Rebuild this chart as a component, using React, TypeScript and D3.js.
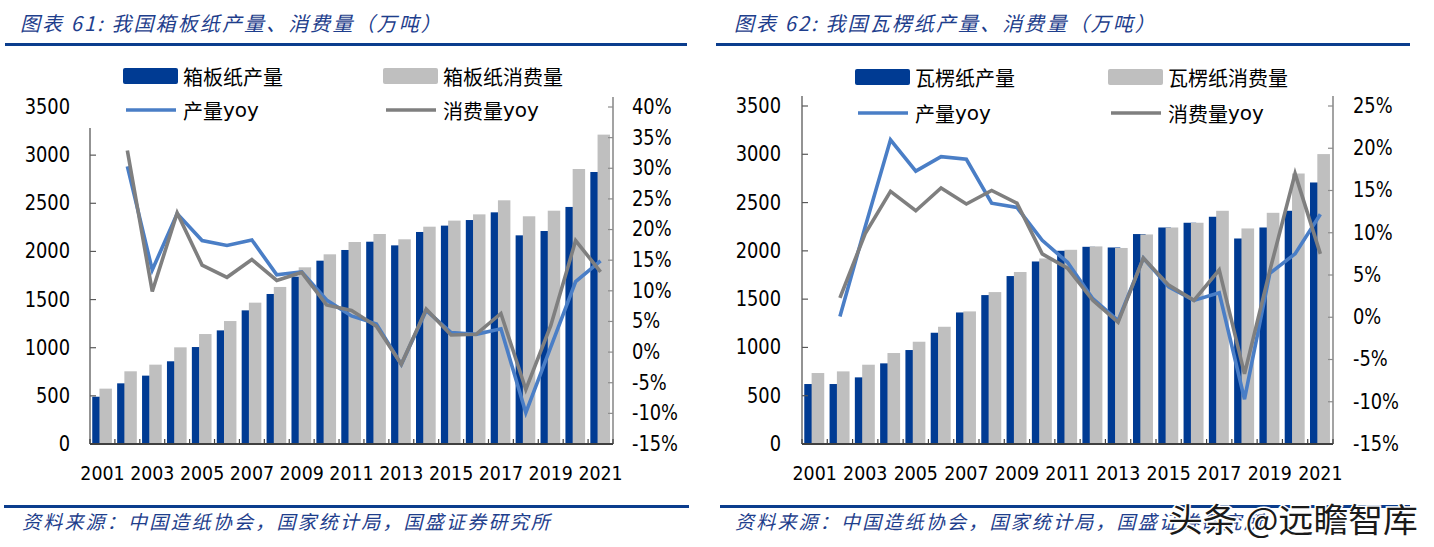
import React from "react";
import * as d3 from "d3";

const years = ["2001","2002","2003","2004","2005","2006","2007","2008","2009","2010","2011","2012","2013","2014","2015","2016","2017","2018","2019","2020","2021"];
const xTickLabels = ["2001","2003","2005","2007","2009","2011","2013","2015","2017","2019","2021"];

// 箱板纸 (万吨)
const boxProd = [491,630,710,859,1007,1180,1388,1558,1738,1904,2015,2101,2063,2202,2268,2326,2406,2167,2212,2462,2825];
const boxCons = [575,755,824,1004,1142,1277,1468,1631,1835,1970,2098,2181,2126,2257,2320,2385,2531,2365,2423,2856,3213];
const boxProdYoy = [null,30.3,13.4,22.6,18.2,17.4,18.3,12.6,13.1,8.5,5.9,4.6,-2.0,6.8,3.2,2.9,3.8,-9.9,0.8,11.5,14.9];
const boxConsYoy = [null,32.9,9.9,22.7,14.2,12.2,15.1,11.7,13.0,7.7,6.8,4.2,-2.0,7.0,2.8,2.9,6.3,-6.1,4.3,18.2,13.1];

// 瓦楞纸 (万吨)
const corProd = [621,621,690,835,973,1152,1362,1542,1739,1890,2001,2042,2035,2174,2242,2291,2353,2128,2242,2415,2708];
const corCons = [735,752,821,942,1059,1214,1373,1573,1781,1921,2011,2046,2030,2170,2242,2291,2415,2232,2394,2801,3002];
const corProdYoy = [null,0.1,10.7,21.0,17.3,19.0,18.7,13.5,13.0,9.1,6.5,2.2,-0.4,7.0,3.6,2.0,2.9,-9.7,5.2,7.5,12.2];
const corConsYoy = [null,2.3,9.9,14.9,12.6,15.3,13.4,15.0,13.5,7.5,5.8,2.0,-0.6,7.0,3.8,2.0,5.6,-6.7,5.5,17.0,7.5];

const leftTicks = [0,500,1000,1500,2000,2500,3000,3500];
const boxPctTicks = [-15,-10,-5,0,5,10,15,20,25,30,35,40];
const corPctTicks = [-15,-10,-5,0,5,10,15,20,25];

const BLUE = "#003B93";
const GRAY = "#BFBFBF";
const LBLUE = "#4A7EC6";
const LGRAY = "#7F7F7F";
const TITLE = "#1E3E8C";
const RULE = "#0B3D8D";
const NUMFONT = "'DejaVu Sans', Verdana, sans-serif";
const CJK = "'Noto Sans CJK SC', sans-serif";

type Cfg = {
  x0: number; x1: number; top: number; bottom: number;
  prod: number[]; cons: number[]; prodYoy: (number|null)[]; consYoy: (number|null)[];
  pctTicks: number[]; pctMin: number; pctMax: number;
  leftLabelX: number; rightLabelX: number; leftAxisTop: number;
  legend: { x1: number; x2: number; y1: number; y2: number; prodName: string; consName: string };
};

function Num({ x, y, text, anchor, size }: { x: number; y: number; text: string; anchor: string; size: number }) {
  return (
    <g transform={`translate(${x},${y}) scale(0.87,1)`}>
      <text x={0} y={0} textAnchor={anchor} dominantBaseline="central" fontFamily={NUMFONT} fontSize={size} fill="#000">{text}</text>
    </g>
  );
}

function Panel({ c }: { c: Cfg }) {
  const x = d3.scaleBand<string>().domain(years).range([c.x0, c.x1]).paddingInner(0).paddingOuter(0);
  const bw = x.bandwidth();
  const yL = d3.scaleLinear().domain([0, 3500]).range([c.bottom, c.top]);
  const yR = d3.scaleLinear().domain([c.pctMin, c.pctMax]).range([c.bottom, c.top]);
  const cx = (i: number) => (x(years[i]) as number) + bw / 2;
  const mkLine = (arr: (number|null)[]) =>
    d3.line<number|null>()
      .defined((d) => d !== null)
      .x((_, i) => cx(i))
      .y((d) => yR(d as number))(arr) as string;
  const barW = bw * 0.5;
  const L = c.legend;
  return (
    <g>
      {years.map((yr, i) => (
        <g key={yr}>
          <rect x={(x(yr) as number) + bw * 0.09} y={yL(c.prod[i])} width={barW} height={c.bottom - yL(c.prod[i])} fill={BLUE} />
          <rect x={(x(yr) as number) + bw * 0.38} y={yL(c.cons[i])} width={barW} height={c.bottom - yL(c.cons[i])} fill={GRAY} />
        </g>
      ))}
      <line x1={c.x0} x2={c.x0} y1={c.leftAxisTop} y2={c.bottom} stroke="#595959" strokeWidth={1.3} />
      <line x1={c.x1} x2={c.x1} y1={c.top - 10} y2={c.bottom} stroke="#8C8C8C" strokeWidth={1.6} />
      {leftTicks.map((t) => (
        yL(t) >= c.leftAxisTop ? <line key={"lt" + t} x1={c.x0} x2={c.x0 + 6} y1={yL(t)} y2={yL(t)} stroke="#595959" strokeWidth={1.2} /> : null
      ))}
      {c.pctTicks.map((t) => (
        <line key={"rt" + t} x1={c.x1 - 5} x2={c.x1} y1={yR(t)} y2={yR(t)} stroke="#8C8C8C" strokeWidth={1.2} />
      ))}
      {d3.range(years.length + 1).map((i) => {
        const xx = c.x0 + i * bw;
        return <line key={"xt" + i} x1={xx} x2={xx} y1={c.bottom - 5} y2={c.bottom} stroke="#404040" strokeWidth={1.2} />;
      })}
      <line x1={c.x0} x2={c.x1} y1={c.bottom} y2={c.bottom} stroke="#404040" strokeWidth={2} />
      <path d={mkLine(c.prodYoy)} fill="none" stroke={LBLUE} strokeWidth={3.6} strokeLinejoin="miter" />
      <path d={mkLine(c.consYoy)} fill="none" stroke={LGRAY} strokeWidth={3.6} strokeLinejoin="miter" />
      {leftTicks.map((t) => (
        <Num key={"ll" + t} x={c.leftLabelX} y={yL(t)} text={String(t)} anchor="end" size={20.5} />
      ))}
      {c.pctTicks.map((t) => (
        <Num key={"rl" + t} x={c.rightLabelX} y={yR(t)} text={`${t}%`} anchor="start" size={20.5} />
      ))}
      {xTickLabels.map((t) => (
        <Num key={"xl" + t} x={cx(years.indexOf(t))} y={c.bottom + 29} text={t} anchor="middle" size={20} />
      ))}
      <rect x={L.x1} y={L.y1 - 8} width={55} height={16} rx={2} fill={BLUE} />
      <text x={L.x1 + 60} y={L.y1} dominantBaseline="central" fontFamily={CJK} fontSize={20} fill="#000">{L.prodName}</text>
      <rect x={L.x2} y={L.y1 - 8} width={55} height={16} rx={2} fill={GRAY} />
      <text x={L.x2 + 60} y={L.y1} dominantBaseline="central" fontFamily={CJK} fontSize={20} fill="#000">{L.consName}</text>
      <line x1={L.x1 + 3} x2={L.x1 + 53} y1={L.y2} y2={L.y2} stroke={LBLUE} strokeWidth={3.6} />
      <text x={L.x1 + 60} y={L.y2} dominantBaseline="central" fontFamily={CJK} fontSize={20} fill="#000">产量<tspan fontFamily={NUMFONT}>yoy</tspan></text>
      <line x1={L.x2 + 3} x2={L.x2 + 53} y1={L.y2} y2={L.y2} stroke={LGRAY} strokeWidth={3.6} />
      <text x={L.x2 + 60} y={L.y2} dominantBaseline="central" fontFamily={CJK} fontSize={20} fill="#000">消费量<tspan fontFamily={NUMFONT}>yoy</tspan></text>
    </g>
  );
}

export default function App() {
  const left: Cfg = {
    x0: 90, x1: 613, top: 107, bottom: 444,
    prod: boxProd, cons: boxCons, prodYoy: boxProdYoy, consYoy: boxConsYoy,
    pctTicks: boxPctTicks, pctMin: -15, pctMax: 40,
    leftLabelX: 70, rightLabelX: 632, leftAxisTop: 128,
    legend: { x1: 123, x2: 383, y1: 76, y2: 110, prodName: "箱板纸产量", consName: "箱板纸消费量" },
  };
  const right: Cfg = {
    x0: 802, x1: 1333, top: 106, bottom: 444,
    prod: corProd, cons: corCons, prodYoy: corProdYoy, consYoy: corConsYoy,
    pctTicks: corPctTicks, pctMin: -15, pctMax: 25,
    leftLabelX: 781, rightLabelX: 1353, leftAxisTop: 96,
    legend: { x1: 855, x2: 1108, y1: 77, y2: 113, prodName: "瓦楞纸产量", consName: "瓦楞纸消费量" },
  };
  return (
    <svg width={1434} height={547} style={{ position: "absolute", left: 0, top: 0, background: "#fff" }}>
      <rect x={0} y={0} width={1434} height={547} fill="#fff" />
      <text x={20} y={22} dominantBaseline="central" fontFamily={CJK} fontStyle="italic" fontSize={20} letterSpacing={2.1} fill={TITLE}>图表 61:  我国箱板纸产量、消费量（万吨）</text>
      <text x={734} y={22} dominantBaseline="central" fontFamily={CJK} fontStyle="italic" fontSize={20} letterSpacing={2.1} fill={TITLE}>图表 62:  我国瓦楞纸产量、消费量（万吨）</text>
      <rect x={5} y={43} width={682} height={3} fill={RULE} />
      <rect x={716} y={43} width={694} height={3} fill={RULE} />
      <Panel c={left} />
      <Panel c={right} />
      <rect x={4} y={505} width={685} height={3} fill={RULE} />
      <rect x={720} y={505} width={690} height={3} fill={RULE} />
      <text x={22} y={520} dominantBaseline="central" fontFamily={CJK} fontStyle="italic" fontSize={19} letterSpacing={2.2} fill={TITLE}>资料来源：中国造纸协会，国家统计局，国盛证券研究所</text>
      <text x={735} y={520} dominantBaseline="central" fontFamily={CJK} fontStyle="italic" fontSize={19} letterSpacing={2.2} fill={TITLE}>资料来源：中国造纸协会，国家统计局，国盛证券研究所</text>
      <text x={1168} y={518} dominantBaseline="central" fontFamily={CJK} fontSize={33} textLength={250} lengthAdjust="spacingAndGlyphs" fill="#1a1a1a" stroke="#fff" strokeWidth={3} style={{ paintOrder: "stroke" }}>头条 @远瞻智库</text>
    </svg>
  );
}
